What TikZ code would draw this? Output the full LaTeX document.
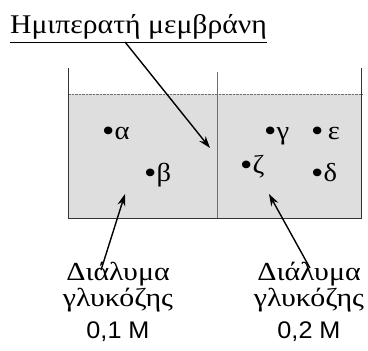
\documentclass[tikz,border=0pt]{standalone}
\usepackage{fontspec}
\setmainfont{Liberation Serif}
\setsansfont{Liberation Sans}
\newfontfamily\titlefont[FakeStretch=1.1]{Liberation Serif}
\newfontfamily\labelfont[FakeStretch=1.15]{Liberation Serif}
\newfontfamily\numfont[FakeStretch=1.05]{Liberation Sans}
\newfontfamily\molfont[FakeStretch=1.1]{Liberation Serif}
\newcommand{\moldot}{\raisebox{-2pt}{\fontsize{32}{26}\selectfont•}}
\usetikzlibrary{arrows.meta}
\definecolor{solGray}{RGB}{222,222,222}
\definecolor{edgeGray}{RGB}{110,110,110}

\begin{document}
\begin{tikzpicture}[
    x=1pt, y=-1pt,
    title node/.style={anchor=base, inner xsep=0pt, inner ysep=3pt, font=\titlefont\fontsize{27}{30}\selectfont},
    label node/.style={align=center, inner sep=0pt, font=\labelfont\fontsize{26}{26}\selectfont},
    mol node/.style={anchor=base west, inner sep=0pt, font=\molfont\fontsize{26}{26}\selectfont},
    pointer/.style={-{Stealth[length=12pt,width=8pt]}, line width=1.4pt}
]
  \useasboundingbox (0,0) rectangle (368,351);

  % vessel with the two solutions
  \fill[solGray] (69,94) rectangle (362,218);
  \draw[edgeGray, densely dotted] (69,94) -- (362,94);
  \draw[edgeGray] (217,72) -- (217,218);
  \draw[black!80, line width=1pt] (69,68) -- (69,218) -- (362,218) -- (362,68);

  % molecules
  \node[mol node] (alpha) at (102,139) {\moldot α};
  \node[mol node] (beta) at (144,181) {\moldot β};
  \node[mol node] (gamma) at (264,139) {\moldot γ};
  \node[mol node] (epsilon) at (311,139) {\moldot\,ε};
  \node[mol node] (zeta) at (240,173) {\moldot ζ};
  \node[mol node] (delta) at (311,181) {\moldot δ};

  % labels
  \node[title node] (title) at (138.5,33) {Ημιπερατή μεμβράνη};
  \draw[line width=0.8pt] (title.south west) -- (title.south east);
  \node[label node] (leftsol) at (118,302) {Διάλυμα\\γλυκόζης\\[6pt]{\numfont\fontsize{24}{26}\selectfont 0,1 M}};
  \node[label node] (rightsol) at (309,302) {Διάλυμα\\γλυκόζης\\[6pt]{\numfont\fontsize{24}{26}\selectfont 0,2 M}};

  \coordinate (memtip) at (210,148);
  \coordinate (lefttip) at (125,194);
  \coordinate (righttip) at (269,194);

  \draw[pointer] ([xshift=-13.5pt]title.south) -- (memtip);
  \draw[pointer] ([xshift=-17pt,yshift=-8pt]leftsol.north) -- (lefttip);
  \draw[pointer] ([xshift=1pt,yshift=-6pt]rightsol.north) -- (righttip);
\end{tikzpicture}
\end{document}
